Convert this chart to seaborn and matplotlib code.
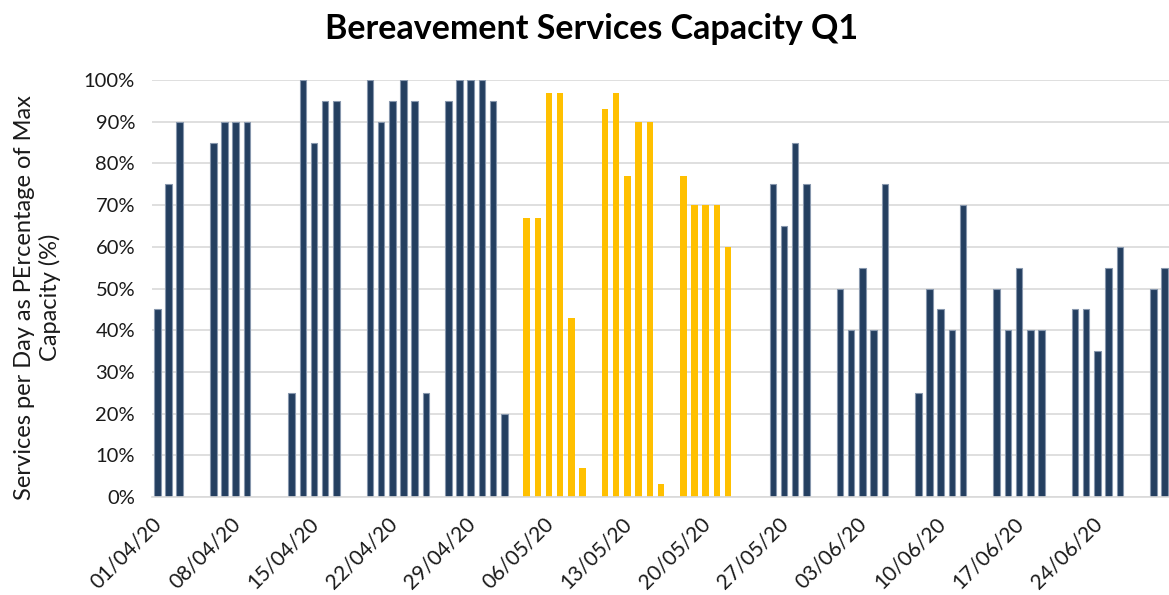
import numpy as np
import pandas as pd
import seaborn as sns
import matplotlib.pyplot as plt
import matplotlib.ticker as mtick

# daily service capacity (only days with services; weekends / holidays are blank)
service_dates = [
    '01/04/20', '02/04/20', '03/04/20',
    '06/04/20', '07/04/20', '08/04/20', '09/04/20',
    '13/04/20', '14/04/20', '15/04/20', '16/04/20', '17/04/20',
    '20/04/20', '21/04/20', '22/04/20', '23/04/20', '24/04/20', '25/04/20',
    '27/04/20', '28/04/20', '29/04/20', '30/04/20', '01/05/20', '02/05/20',
    '04/05/20', '05/05/20', '06/05/20', '07/05/20', '08/05/20', '09/05/20',
    '11/05/20', '12/05/20', '13/05/20', '14/05/20', '15/05/20', '16/05/20',
    '18/05/20', '19/05/20', '20/05/20', '21/05/20', '22/05/20',
    '26/05/20', '27/05/20', '28/05/20', '29/05/20',
    '01/06/20', '02/06/20', '03/06/20', '04/06/20', '05/06/20',
    '08/06/20', '09/06/20', '10/06/20', '11/06/20', '12/06/20',
    '15/06/20', '16/06/20', '17/06/20', '18/06/20', '19/06/20',
    '22/06/20', '23/06/20', '24/06/20', '25/06/20', '26/06/20',
    '29/06/20', '30/06/20',
]
capacity = [
    0.45, 0.75, 0.90,
    0.85, 0.90, 0.90, 0.90,
    0.25, 1.00, 0.85, 0.95, 0.95,
    1.00, 0.90, 0.95, 1.00, 0.95, 0.25,
    0.95, 1.00, 1.00, 1.00, 0.95, 0.20,
    0.67, 0.67, 0.97, 0.97, 0.43, 0.07,
    0.93, 0.97, 0.77, 0.90, 0.90, 0.03,
    0.77, 0.70, 0.70, 0.70, 0.60,
    0.75, 0.65, 0.85, 0.75,
    0.50, 0.40, 0.55, 0.40, 0.75,
    0.25, 0.50, 0.45, 0.40, 0.70,
    0.50, 0.40, 0.55, 0.40, 0.40,
    0.45, 0.45, 0.35, 0.55, 0.60,
    0.50, 0.55,
]
highlight_start = '04/05/20'
highlight_end = '22/05/20'

navy = '#243F60'
gold = '#FFC000'

days = pd.date_range('2020-04-01', '2020-06-30', freq='D')
df = pd.DataFrame({'date': days})
vals = pd.Series(capacity, index=pd.to_datetime(service_dates, format='%d/%m/%y'))
df['capacity'] = df['date'].map(vals)
hs = pd.to_datetime(highlight_start, format='%d/%m/%y')
he = pd.to_datetime(highlight_end, format='%d/%m/%y')
df['period'] = np.where(df['date'].between(hs, he), 'highlight', 'normal')
df['day'] = df['date'].dt.strftime('%d/%m/%y')

sns.set_style('white')
plt.rcParams['font.family'] = ['Lato', 'DejaVu Sans']

fig = plt.figure(figsize=(11.69, 5.95), dpi=100)
ax = fig.add_axes([0.1298, 0.1647, 0.8712, 0.7008])

sns.barplot(data=df, x='day', y='capacity', hue='period', order=list(df['day']),
            hue_order=['normal', 'highlight'],
            palette={'normal': navy, 'highlight': gold}, saturation=1,
            dodge=False, width=0.58, errorbar=None, legend=False, ax=ax, zorder=3)

for p in ax.patches:
    r, g, b, _ = p.get_facecolor()
    if b > 0.3:
        p.set_edgecolor('#8797AD')
        p.set_linewidth(0.8)
    else:
        p.set_linewidth(0)

ax.set_xlim(-0.5, len(df) - 0.5)
ax.set_ylim(0, 1)
ax.yaxis.set_major_locator(mtick.MultipleLocator(0.1))
ax.yaxis.set_major_formatter(mtick.PercentFormatter(1.0, decimals=0))
ax.grid(axis='y', color='#D9D9D9', linewidth=1.2, zorder=0)
ax.grid(axis='x', visible=False)

tick_pos = np.arange(0, len(df), 7) - 0.5
ax.set_xticks(tick_pos)
ax.set_xticklabels(df['day'].iloc[::7], rotation=45, ha='right',
                   rotation_mode='anchor', fontsize=15, color='#1a1a1a')
ax.tick_params(axis='x', length=6, width=1.2, color='#D9D9D9', pad=6)
ax.tick_params(axis='y', length=0, labelsize=14.5, labelcolor='#1a1a1a', pad=12)

for s in ['top', 'right', 'left']:
    ax.spines[s].set_visible(False)
ax.spines['bottom'].set_color('#D9D9D9')
ax.spines['bottom'].set_linewidth(1.2)
ax.spines['bottom'].set_zorder(4)

ax.set_xlabel('')
ax.set_ylabel('')
fig.text(0.032, 0.50, 'Services per Day as PErcentage of Max\nCapacity (%)',
         rotation=90, ha='center', va='center', multialignment='center',
         fontsize=17, color='#1a1a1a', linespacing=1.25)
fig.text(0.506, 0.952, 'Bereavement Services Capacity Q1', ha='center', va='center',
         fontsize=24.5, fontweight='bold', color='black')

fig.savefig('out.png', dpi=100)
